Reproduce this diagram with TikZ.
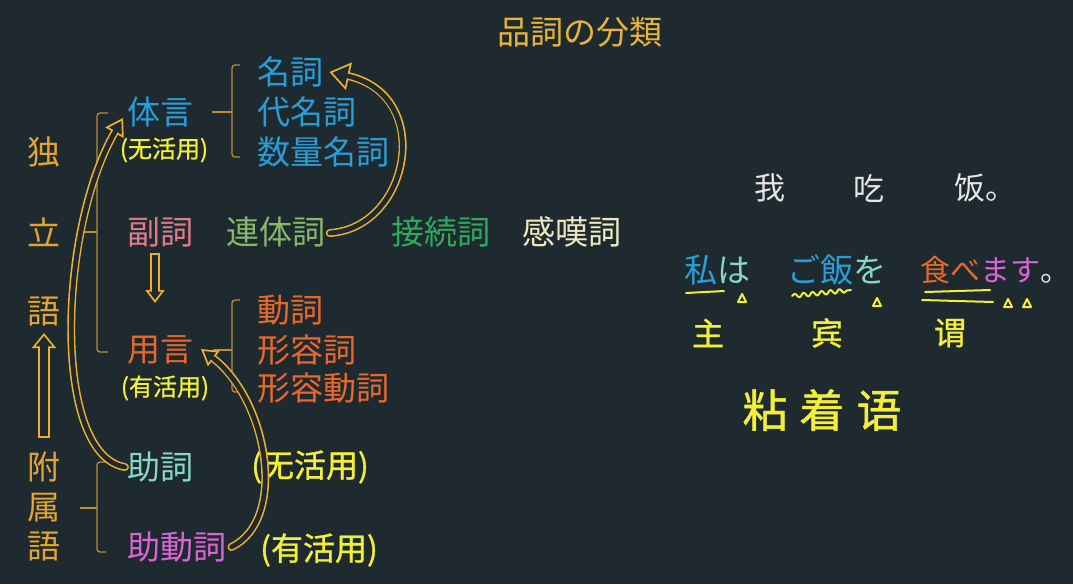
\documentclass[tikz,border=0pt]{standalone}
\usepackage{fontspec}
\newfontfamily\jpfont{Noto Sans CJK JP}
\newfontfamily\zhfont{Noto Sans CJK SC}
\newfontfamily\zhhw[FakeBold=1]{Noto Sans CJK SC}
\usetikzlibrary{arrows.meta,calc,decorations.pathmorphing}
\definecolor{bgcol}{HTML}{1E2A2F}
\definecolor{titlegold}{HTML}{E6B43A}
\definecolor{leftgold}{HTML}{E4A433}
\definecolor{bluec}{HTML}{2B9CD6}
\definecolor{pinkc}{HTML}{E07B8C}
\definecolor{lgreen}{HTML}{86B86A}
\definecolor{dgreen}{HTML}{2DAA5A}
\definecolor{cream}{HTML}{EDE8C0}
\definecolor{orangec}{HTML}{E8682C}
\definecolor{tealc}{HTML}{86D8C4}
\definecolor{magc}{HTML}{D865D5}
\definecolor{whitec}{HTML}{E6E6E6}
\definecolor{hwyellow}{HTML}{F2EE3A}
\definecolor{arrowgold}{HTML}{EDB02E}
\definecolor{bracketc}{HTML}{B98E34}
\tikzset{
  jt/.style={font=\jpfont\fontsize{33}{38}\selectfont, inner sep=0pt},
  jts/.style={font=\jpfont\fontsize{30}{35}\selectfont, inner sep=0pt},
  zt/.style={font=\zhfont\fontsize{31}{35}\selectfont, inner sep=0pt},
  hw/.style={font=\zhhw\fontsize{24}{28}\selectfont, text=hwyellow, inner sep=0pt},
  hwbig/.style={font=\zhhw\fontsize{32}{36}\selectfont, text=hwyellow, inner sep=0pt},
  hwhuge/.style={font=\zhhw\fontsize{45}{50}\selectfont, text=hwyellow, inner sep=0pt},
  brk/.style={draw=bracketc, line width=1.3pt, rounded corners=3pt},
  hshaft/.style={draw=arrowgold, line width=1.7pt, double=bgcol},
  hhead/.style={draw=arrowgold, line width=1.7pt},
  hgap/.style={draw=bgcol},
  hwline/.style={draw=hwyellow, line width=2pt, line cap=round, line join=round}
}
% #1 start, #2 c1, #3 c2, #4 end, #5 head length, #6 head width, #7 gap, #8 cap
\newcommand{\hollowarrow}[8]{%
  \draw[hshaft, double distance=#7, line cap=#8, shorten >=#5-1pt] (#1) .. controls (#2) and (#3) .. (#4);
  \draw[hhead, -{Triangle[length=#5, width=#6, fill=bgcol]}] ($(#4)!24pt!(#3)$) -- (#4);
  \draw[hgap, line width=#7, shorten >=#5-3pt] (#1) .. controls (#2) and (#3) .. (#4);
}
\begin{document}
\begin{tikzpicture}[x=1pt,y=-1pt]
\fill[bgcol] (0,0) rectangle (1073,584);
\useasboundingbox (0,0) rectangle (1073,584);

% title
\node[jt, text=titlegold] (title) at (580,32) {品詞の分類};

% left column
\node[jt, text=leftgold] (dok) at (44,152) {独};
\node[jt, text=leftgold] (ritsu) at (44,232) {立};
\node[jt, text=leftgold] (goA) at (44,312) {語};
\node[jt, text=leftgold] (fu) at (44,467) {附};
\node[jt, text=leftgold] (zoku) at (44,508) {属};
\node[jt, text=leftgold] (goB) at (44,547) {語};

% middle
\node[jt, text=bluec, anchor=west] (taigen) at (127,112) {体言};
\node[hw] (muk1) at (164,150) {(无活用)};
\node[jt, text=pinkc, anchor=west] (fukushi) at (127,232) {副詞};
\node[jt, text=lgreen] (rentai) at (276,232) {連体詞};
\node[jt, text=dgreen] (setsu) at (441,232) {接続詞};
\node[jt, text=cream] (kantan) at (572,232) {感嘆詞};
\node[jt, text=orangec, anchor=west] (yougen) at (127,350) {用言};
\node[hw] (yuk1) at (165,388) {(有活用)};
\node[jt, text=tealc, anchor=west] (joshi) at (127,467) {助詞};
\node[jt, text=magc, anchor=west] (jodoushi) at (127,547) {助動詞};
\node[hwbig] (muk2) at (310,467) {(无活用)};
\node[hwbig] (yuk2) at (319,550) {(有活用)};

\node[jt, text=bluec, anchor=west] (meishi) at (257,72) {名詞};
\node[jt, text=bluec, anchor=west] (daimeishi) at (257,112) {代名詞};
\node[jt, text=bluec, anchor=west] (suuryou) at (257,152) {数量名詞};
\node[jt, text=orangec, anchor=west] (doushi) at (257,310) {動詞};
\node[jt, text=orangec, anchor=west] (keiyou) at (257,350) {形容詞};
\node[jt, text=orangec, anchor=west] (keidou) at (257,388) {形容動詞};

% brackets
\draw[brk] (108,113) -- (97,113) -- (97,352) -- (108,352);
\draw[brk] (80,232) -- (97,232);
\draw[brk] (106,462) -- (97,462) -- (97,552) -- (106,552);
\draw[brk] (80,508) -- (97,508);
\draw[brk] (240,65) -- (232,65) -- (232,157) -- (240,157);
\draw[brk] (212,112) -- (232,112);
\draw[brk] (240,300) -- (232,300) -- (232,392) -- (240,392);
\draw[brk] (213,350) -- (232,350);

% arrows
\coordinate (upA) at (44,432);
\coordinate (upB) at (44,333);
\hollowarrow{upA}{upA}{upA}{upB}{15pt}{24pt}{8pt}{rect}
\coordinate (dnA) at (155,258);
\coordinate (dnB) at (155,303);
\hollowarrow{dnA}{dnA}{dnA}{dnB}{13pt}{19pt}{6pt}{rect}
\coordinate (r0) at ($(rentai.east)+(4,1)$);
\coordinate (r1) at (410,228);
\coordinate (r2) at (435,95);
\coordinate (r3) at ($(meishi.east)+(6,0)$);
\hollowarrow{r0}{r1}{r2}{r3}{20pt}{28pt}{4.5pt}{round}
\coordinate (j0) at ($(joshi.west)+(-2,0)$);
\coordinate (j1) at (52,455);
\coordinate (j2) at (58,230);
\coordinate (j3) at (123,118);
\hollowarrow{j0}{j1}{j2}{j3}{17pt}{21pt}{4.5pt}{round}
\coordinate (k0) at ($(jodoushi.east)+(5,0)$);
\coordinate (k1) at (288,520);
\coordinate (k2) at (268,400);
\coordinate (k3) at (201,349);
\hollowarrow{k0}{k1}{k2}{k3}{16pt}{19pt}{4.5pt}{round}

% right side
\node[zt, text=whitec] (wo) at (770,188) {我};
\node[zt, text=whitec] (chi) at (869,188) {吃};
\node[zt, text=whitec, anchor=west] (fan) at (954,188) {饭。};

\node[jt, anchor=west] (s1) at (684,270) {\textcolor{bluec}{私}\textcolor{tealc}{は}};
\node[jt, anchor=west] (s2) at (787,270) {\textcolor{bluec}{ご飯}\textcolor{tealc}{を}};
\node[jts, anchor=west] (s3) at (920,270) {\textcolor{orangec}{食べ}\textcolor{magc}{ます}\textcolor{whitec}{。}};

\draw[hwline] (686,293) -- (724,291);
\draw[hwline] (738,302) -- (742,294) -- (746,302) -- cycle;
\draw[hwline, decorate, decoration={snake, amplitude=2pt, segment length=9pt}] (792,296) -- (851,290);
\draw[hwline] (873,306) -- (877,298) -- (881,306) -- cycle;
\draw[hwline] (925,292) -- (990,290);
\draw[hwline] (922,300) -- (993,302);
\draw[hwline] (1004,307) -- (1008,299) -- (1012,307) -- cycle;
\draw[hwline] (1023,307) -- (1027,299) -- (1031,307) -- cycle;

\node[hwbig] (shu) at (708,333) {主};
\node[hwbig] (bin) at (827,333) {宾};
\node[hwbig] (wei) at (950,333) {谓};
\node[hwhuge] (nen) at (822,410) {粘\hspace{12pt}着\hspace{12pt}语};
\end{tikzpicture}
\end{document}
